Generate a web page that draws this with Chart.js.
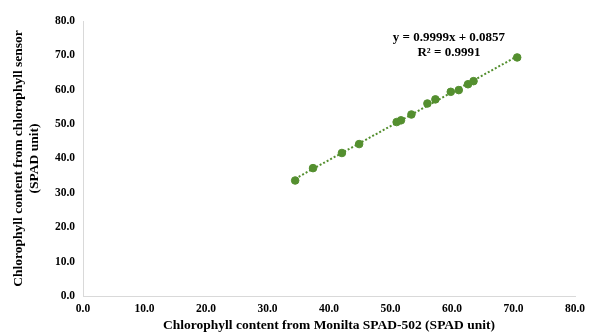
<!DOCTYPE html>
<html>
<head>
<meta charset="utf-8">
<script src="https://cdn.jsdelivr.net/npm/chart.js@4/dist/chart.umd.min.js"></script>
<style>
  html, body { margin: 0; padding: 0; background: #ffffff; }
  #wrap { width: 592px; height: 336px; position: relative; }
</style>
</head>
<body>
<div id="wrap"><canvas id="c"></canvas></div>
<script>
// Readings (SPAD units)
const spad502 = [34.5, 37.4, 42.1, 44.9, 51.0, 51.7, 53.4, 56.0, 57.3, 59.8, 61.1, 62.6, 63.5, 70.6];
const sensor  = [33.6, 37.2, 41.6, 44.2, 50.6, 51.1, 52.8, 56.0, 57.2, 59.4, 59.9, 61.6, 62.5, 69.4];
const axisTicks = [0, 10, 20, 30, 40, 50, 60, 70, 80];
const equationText = ['y = 0.9999x + 0.0857', 'R² = 0.9991'];
const xTitle = 'Chlorophyll content from Monilta SPAD-502 (SPAD unit)';
const yTitle = ['Chlorophyll content from chlorophyll sensor', '(SPAD unit)'];

const pts = spad502.map((x, i) => ({ x: x, y: sensor[i] }));

// least-squares trendline through the readings (drawn between first and last reading)
const n = pts.length;
const mx = spad502.reduce((a, b) => a + b, 0) / n;
const my = sensor.reduce((a, b) => a + b, 0) / n;
let sxy = 0, sxx = 0;
for (let i = 0; i < n; i++) { sxy += (spad502[i] - mx) * (sensor[i] - my); sxx += (spad502[i] - mx) ** 2; }
const slope = sxy / sxx, icpt = my - slope * mx;
const xmin = Math.min(...spad502), xmax = Math.max(...spad502);
const trend = [{ x: xmin, y: slope * xmin + icpt }, { x: xmax, y: slope * xmax + icpt }];

const green = '#548f2f';
const serif = '"Liberation Serif", "Times New Roman", serif';

const equationPlugin = {
  id: 'equation',
  afterDatasetsDraw(chart) {
    const { ctx, scales } = chart;
    const cx = scales.x.getPixelForValue(59.5);
    const cy = scales.y.getPixelForValue(75.3);
    ctx.save();
    ctx.font = 'bold 13px ' + serif;
    ctx.fillStyle = '#000';
    ctx.textAlign = 'center';
    ctx.textBaseline = 'middle';
    ctx.fillText(equationText[0], cx, cy);
    ctx.fillText(equationText[1], cx, cy + 15);
    ctx.restore();
  }
};

new Chart(document.getElementById('c'), {
  type: 'scatter',
  data: {
    datasets: [
      {
        label: 'trend',
        type: 'line',
        data: trend,
        borderColor: green,
        borderWidth: 2,
        borderDash: [2, 2],
        pointRadius: 0,
        fill: false,
        order: 2
      },
      {
        label: 'readings',
        data: pts,
        backgroundColor: green,
        borderColor: green,
        pointRadius: 3.8,
        pointHoverRadius: 3.8,
        order: 1
      }
    ]
  },
  options: {
    responsive: true,
    maintainAspectRatio: false,
    animation: false,
    layout: { padding: { top: 21, right: 17, left: 0, bottom: 0 } },
    plugins: { legend: { display: false }, tooltip: { enabled: false } },
    scales: {
      x: {
        type: 'linear', min: 0, max: 80,
        afterBuildTicks: s => { s.ticks = axisTicks.map(v => ({ value: v })); },
        grid: { display: false, drawTicks: false },
        border: { display: true, color: '#d9d9d9', width: 1 },
        ticks: {
          padding: 6, color: '#000',
          font: { family: serif, size: 11.5, weight: 'bold' },
          callback: v => v.toFixed(1), maxRotation: 0
        },
        title: {
          display: true, text: xTitle, color: '#000',
          font: { family: serif, size: 13.5, weight: 'bold' },
          padding: { top: 6, bottom: 2 }
        },
        afterFit: s => { s.height = 40; }
      },
      y: {
        type: 'linear', min: 0, max: 80,
        afterBuildTicks: s => { s.ticks = axisTicks.map(v => ({ value: v })); },
        grid: { display: false, drawTicks: false },
        border: { display: true, color: '#d9d9d9', width: 1 },
        ticks: {
          padding: 8, color: '#000',
          font: { family: serif, size: 11.5, weight: 'bold' },
          callback: v => v.toFixed(1)
        },
        title: {
          display: true, text: yTitle, color: '#000',
          font: { family: serif, size: 13.5, weight: 'bold', lineHeight: 1.15 },
          padding: { top: 11, bottom: 6 }
        },
        afterFit: s => { s.width = 83; }
      }
    }
  },
  plugins: [equationPlugin]
});
</script>
</body>
</html>
